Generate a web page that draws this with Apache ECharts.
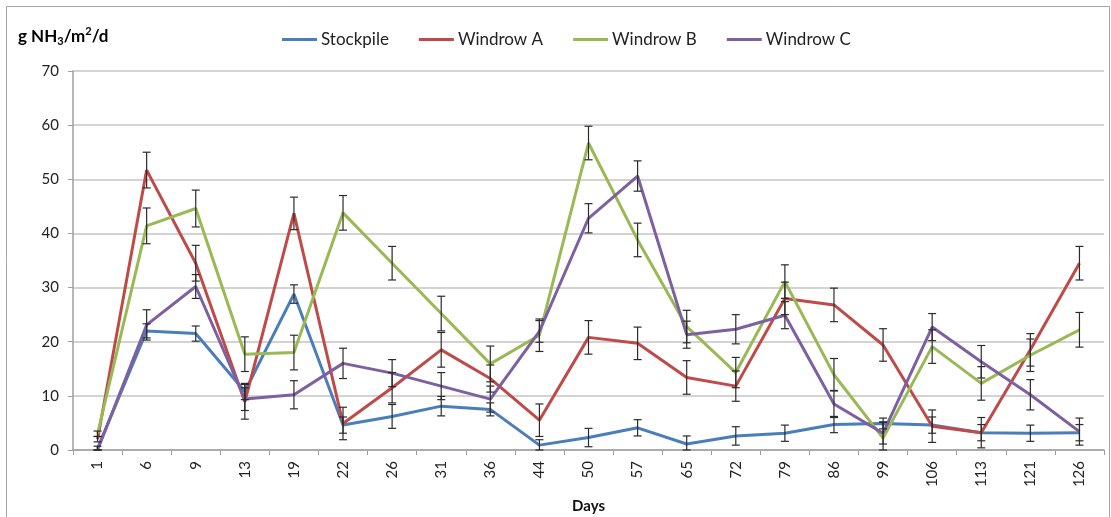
<!DOCTYPE html>
<html>
<head>
<meta charset="utf-8">
<script src="https://cdn.jsdelivr.net/npm/echarts@6/dist/echarts.min.js"></script>
<style>
  html, body { margin: 0; padding: 0; background: #fff; }
  #chart { width: 1111px; height: 517px; }
</style>
</head>
<body>
<div id="chart"></div>
<script>
// Sampling days (category axis)
const days = ['1','6','9','13','19','22','26','31','36','44','50','57','65','72','79','86','99','106','113','121','126'];

// NH3 emission rates, g NH3/m2/d
const stockpile = [0.3, 22.0, 21.5, 10.8, 28.8, 4.6, 6.2, 8.1, 7.5, 0.9, 2.3, 4.1, 1.1, 2.6, 3.1, 4.7, 4.9, 4.6, 3.2, 3.1, 3.2];
const windrowA  = [2.0, 51.7, 34.5, 8.9, 43.7, 4.9, 11.5, 18.5, 13.2, 5.5, 20.8, 19.7, 13.4, 11.8, 28.0, 26.8, 19.4, 4.4, 3.2, 18.5, 34.5];
const windrowB  = [3.0, 41.4, 44.6, 17.7, 18.0, 43.8, 34.5, 25.2, 15.9, 21.2, 56.7, 38.8, 22.8, 14.3, 31.1, 13.9, 2.2, 19.1, 12.3, 17.5, 22.2];
const windrowC  = [0.0, 23.1, 30.2, 9.4, 10.2, 16.0, 14.2, 11.8, 9.4, 21.9, 42.8, 50.6, 21.3, 22.3, 24.9, 8.5, 3.1, 22.7, 16.3, 10.2, 3.4];

// Standard errors
const errStockpile = [0.4, 1.3, 1.4, 1.5, 1.7, 1.5, 2.2, 1.8, 1.2, 1.0, 1.7, 1.5, 1.5, 1.7, 1.5, 1.5, 1.0, 1.5, 1.5, 1.5, 1.5];
const errA = [0.5, 3.3, 3.3, 3.2, 3.0, 3.0, 2.8, 3.2, 2.5, 3.0, 3.1, 3.0, 3.1, 2.8, 3.0, 3.1, 3.0, 3.0, 2.8, 3.0, 3.1];
const errB = [0.5, 3.3, 3.4, 3.2, 3.2, 3.2, 3.1, 3.2, 3.3, 3.0, 3.1, 3.1, 3.0, 2.8, 3.1, 3.0, 3.0, 3.1, 3.1, 3.0, 3.2];
const errC = [0.0, 2.8, 2.2, 2.1, 2.6, 2.8, 2.5, 2.5, 2.4, 2.0, 2.7, 2.8, 2.5, 2.7, 2.5, 2.5, 2.0, 2.5, 3.0, 2.8, 2.5];

const yTicks = { min: 0, max: 70, step: 10 };

const FONT = 'Lato, "Open Sans", sans-serif';
const colors = { stockpile: '#4A7EBB', a: '#BE4B48', b: '#98B954', c: '#7D60A0' };

function lineSeries(name, values, color) {
  return {
    name, type: 'line', data: values, color,
    symbol: 'none', z: 3,
    lineStyle: { width: 3, color },
    emphasis: { disabled: true }
  };
}

// Vertical error bar with caps at value ± error
function errorSeries(values, errs) {
  return {
    type: 'custom', silent: true, z: 6,
    data: values.map((v, i) => [i, Math.max(0, v - errs[i]), v + errs[i]]),
    encode: { x: 0, y: [1, 2] },
    renderItem: (params, api) => {
      const lo = api.coord([api.value(0), api.value(1)]);
      const hi = api.coord([api.value(0), api.value(2)]);
      const hw = 4;
      const style = { stroke: '#2b2b2b', lineWidth: 1.2 };
      return {
        type: 'group',
        children: [
          { type: 'line', shape: { x1: hi[0], y1: hi[1], x2: lo[0], y2: lo[1] }, style },
          { type: 'line', shape: { x1: hi[0] - hw, y1: hi[1], x2: hi[0] + hw, y2: hi[1] }, style },
          { type: 'line', shape: { x1: lo[0] - hw, y1: lo[1], x2: lo[0] + hw, y2: lo[1] }, style }
        ]
      };
    }
  };
}

const chart = echarts.init(document.getElementById('chart'), null, { renderer: 'canvas' });

chart.setOption({
  animation: false,
  backgroundColor: '#fff',
  textStyle: { fontFamily: FONT },
  grid: { left: 73, right: 7, top: 71, bottom: 67, containLabel: false, outerBoundsMode: 'none' },
  legend: {
    data: ['Stockpile', 'Windrow A', 'Windrow B', 'Windrow C'],
    top: 26, left: 277,
    icon: 'rect', itemWidth: 35, itemHeight: 3, itemGap: 30,
    textStyle: { fontFamily: FONT, fontSize: 17, color: '#222', padding: [0, 0, 0, -1] }
  },
  graphic: [
    {
      type: 'rect', silent: true, z: -1,
      shape: { x: 6.5, y: 6.5, width: 1103, height: 540 },
      style: { fill: 'none', stroke: '#a6a6a6', lineWidth: 1 }
    },
    {
      type: 'text', left: 18, top: 26, silent: true,
      style: {
        text: '{b|g NH}{s|3}{b|/m}{p|2}{b|/d}',
        rich: {
          b: { fontFamily: FONT, fontSize: 17, fontWeight: 'bold', lineHeight: 21, color: '#111' },
          s: { fontFamily: FONT, fontSize: 11, fontWeight: 'bold', lineHeight: 12, verticalAlign: 'bottom', color: '#111' },
          p: { fontFamily: FONT, fontSize: 11, fontWeight: 'bold', lineHeight: 12, verticalAlign: 'top', color: '#111' }
        }
      }
    }
  ],
  xAxis: {
    type: 'category', data: days, boundaryGap: true,
    name: 'Days', nameLocation: 'middle', nameGap: 49,
    nameTextStyle: { fontFamily: FONT, fontSize: 15, fontWeight: 'bold', color: '#111' },
    axisLine: { lineStyle: { color: '#9f9f9f', width: 1.5 } },
    axisTick: { show: true, length: 5, alignWithLabel: false, lineStyle: { color: '#9f9f9f' } },
    axisLabel: { rotate: 90, margin: 11, fontSize: 15, color: '#222', fontFamily: FONT },
    splitLine: { show: false }
  },
  yAxis: {
    type: 'value', min: yTicks.min, max: yTicks.max, interval: yTicks.step,
    axisLine: { show: true, lineStyle: { color: '#9f9f9f', width: 1.5 } },
    axisTick: { show: true, length: 5, lineStyle: { color: '#9f9f9f' } },
    axisLabel: { margin: 14, fontSize: 15, color: '#222', fontFamily: FONT },
    splitLine: { show: true, lineStyle: { color: '#c4c4c4', width: 1.5 } }
  },
  series: [
    lineSeries('Stockpile', stockpile, colors.stockpile),
    lineSeries('Windrow A', windrowA, colors.a),
    lineSeries('Windrow B', windrowB, colors.b),
    lineSeries('Windrow C', windrowC, colors.c),
    errorSeries(stockpile, errStockpile),
    errorSeries(windrowA, errA),
    errorSeries(windrowB, errB),
    errorSeries(windrowC, errC)
  ]
});
</script>
</body>
</html>
